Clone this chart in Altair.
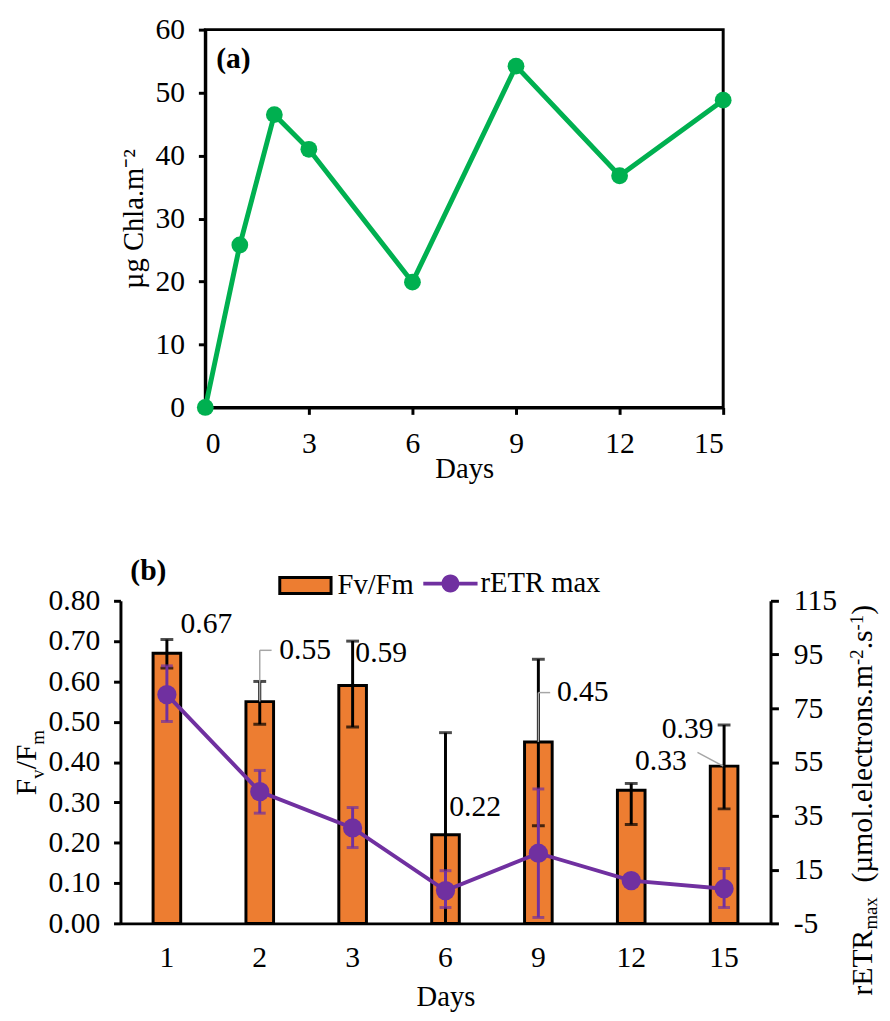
import altair as alt
import pandas as pd

SERIF = "Liberation Serif"
GREEN = "#00B050"
ORANGE = "#ED7D31"
PURPLE = "#7030A0"
GRAY = "#A6A6A6"
LBL = 30
TTL = 29

# ---------------- Panel (a) data ----------------
days_a = [0, 1, 2, 3, 6, 9, 12, 15]
chla = [0.0, 25.8, 46.5, 41.0, 19.9, 54.2, 36.8, 48.8]
x_ticks_a = [0, 3, 6, 9, 12, 15]
y_ticks_a = [0, 10, 20, 30, 40, 50, 60]

# ---------------- Panel (b) data ----------------
days_b = ["1", "2", "3", "6", "9", "12", "15"]
fvfm = [0.67, 0.55, 0.59, 0.22, 0.45, 0.33, 0.39]
fvfm_lo = [0.633, 0.494, 0.487, -0.03, 0.242, 0.245, 0.284]
fvfm_hi = [0.704, 0.600, 0.700, 0.473, 0.655, 0.347, 0.492]
retr = [80.1, 44.0, 30.5, 7.2, 21.1, 10.9, 7.9]
retr_lo = [70.1, 36.0, 23.2, 0.9, -2.8, 10.9, 0.9]
retr_hi = [90.8, 51.9, 38.1, 14.6, 45.0, 10.9, 15.4]
y_ticks_left = [0.0, 0.1, 0.2, 0.3, 0.4, 0.5, 0.6, 0.7, 0.8]
y_ticks_right = [-5, 15, 35, 55, 75, 95, 115]
series_names = ["Fv/Fm", "rETR max"]

# axis titles of panel (b), split into (text, font size, baseline shift, advance)
left_title = [("F", 30, 0, 16.7), ("v", 19, 9, 9.5), ("/F", 30, 0, 25.0), ("m", 19, 9, 14.8)]
right_title = [("rETR", 30, 0, 66.7), ("max", 19, 5, 47.7),
               ("(µmol.electrons.m", 30, 0, 220.6), ("-2", 19, -9, 15.8),
               (".s", 30, 0, 19.2), ("-1", 19, -9, 15.8), (")", 30, 0, 10.0)]


def rotated_title(pieces, x0, y0):
    """Rotated (bottom-to-top) rich-text title made of text marks."""
    layers = []
    y = y0
    for txt, size, shift, adv in pieces:
        layers.append(alt.Chart(pd.DataFrame({"t": [txt]})).mark_text(
            font=SERIF, fontSize=size, angle=270, align="left",
            baseline="alphabetic", color="black").encode(
            text="t:N", x=alt.value(x0 + shift), y=alt.value(y)))
        y -= adv
    return layers


# ================= Panel (a) =================
df_a = pd.DataFrame({"day": days_a, "chla": chla})
xa = alt.X("day:Q", scale=alt.Scale(domain=[0, 15], nice=False),
           axis=alt.Axis(values=x_ticks_a, title="Days", labelPadding=15,
                         titlePadding=-4, tickSize=7))
ya = alt.Y("chla:Q", scale=alt.Scale(domain=[0, 60], nice=False),
           axis=alt.Axis(values=y_ticks_a, title="µg Chla.m⁻²", labelPadding=14,
                         titlePadding=7, tickSize=7))

line_a = alt.Chart(df_a).mark_line(color=GREEN, strokeWidth=5).encode(x=xa, y=ya)
pts_a = alt.Chart(df_a).mark_circle(color=GREEN, size=290, opacity=1).encode(
    x="day:Q", y="chla:Q")
tag_a = alt.Chart(pd.DataFrame({"t": ["(a)"]})).mark_text(
    font=SERIF, fontSize=LBL, fontWeight="bold", align="left", baseline="middle",
    color="black").encode(text="t:N", x=alt.value(11), y=alt.value(30))

panel_a = alt.layer(line_a, pts_a, tag_a).properties(
    width=525, height=383,
    view=alt.ViewBackground(stroke="black", strokeWidth=3))

spacer = alt.Chart(pd.DataFrame({"t": [""]})).mark_text().encode(
    text="t:N").properties(width=1, height=20,
                           view=alt.ViewBackground(stroke="transparent"))

# ================= Panel (b) =================
df_b = pd.DataFrame({
    "day": days_b, "fv": fvfm, "fv_lo": fvfm_lo, "fv_hi": fvfm_hi,
    "retr": retr, "retr_lo": retr_lo, "retr_hi": retr_hi,
})


def xday(**kw):
    return alt.X("day:N", sort=days_b, **kw)


xb = xday(scale=alt.Scale(paddingInner=0, paddingOuter=0),
          axis=alt.Axis(title="Days", labelAngle=0, ticks=False,
                        labelPadding=20, titlePadding=10))
y_left = alt.Y("fv:Q", scale=alt.Scale(domain=[0, 0.8], nice=False),
               axis=alt.Axis(values=y_ticks_left, format=".2f", title=None,
                             labelPadding=14, tickSize=7))
y_right_scale = alt.Scale(domain=[-5, 115], nice=False)

base = alt.Chart(df_b)

bars = base.transform_calculate(series=f"'{series_names[0]}'").mark_bar(
    size=28, stroke="black", strokeWidth=3, opacity=1).encode(
    x=xb, y=y_left,
    color=alt.Color("series:N", scale=alt.Scale(domain=[series_names[0]], range=[ORANGE]),
                    legend=alt.Legend(
                        title=None, orient="none", legendX=160, legendY=-43,
                        padding=0, labelFont=SERIF, labelFontSize=TTL,
                        labelColor="black", labelOffset=5,
                        symbolType="M-1,-0.31H1V0.31H-1Z", symbolSize=2704,
                        symbolStrokeColor="black", symbolStrokeWidth=3,
                        symbolFillColor=ORANGE, symbolOpacity=1)),
)
fv_err = base.mark_rule(color="black", strokeWidth=3, clip=True).encode(
    x=xday(), y="fv_lo:Q", y2="fv_hi:Q")
fv_cap_lo = base.mark_tick(color="black", thickness=3, size=13, orient="horizontal",
                           clip=True).encode(x=xday(), y="fv_lo:Q")
fv_cap_hi = base.mark_tick(color="black", thickness=3, size=13, orient="horizontal").encode(
    x=xday(), y="fv_hi:Q")

# data labels
label_offsets = [(40, -30), (46, -52), (29, -33), (30, -28), (45, -50), (30, -30), (-37, -37)]
labels = []
for d, (dx, dy) in zip(days_b, label_offsets):
    labels.append(base.transform_filter(alt.datum.day == d).mark_text(
        font=SERIF, fontSize=LBL, color="black", dx=dx, dy=dy,
        align="center", baseline="middle").encode(
        x=xday(), y="fv:Q", text=alt.Text("fv:Q", format=".2f")))

# leader lines (x offset, y offset of start and end)
leaders = [("2", 0, 0, 0, -52), ("2", 0, -52, 12, -52),
           ("9", 0, 0, 0, -50), ("9", 0, -50, 12, -50),
           ("15", -1, 0, -27, -14)]
leader_layers = []
for d, x1, y1, x2, y2 in leaders:
    leader_layers.append(base.transform_filter(alt.datum.day == d).mark_rule(
        color=GRAY, strokeWidth=1.5, xOffset=x1, yOffset=y1,
        x2Offset=x2, y2Offset=y2).encode(
        x=xday(bandPosition=0.5), x2=alt.X2("day", bandPosition=0.5),
        y="fv:Q", y2="fv"))

left_layer = alt.layer(bars, fv_err, fv_cap_lo, fv_cap_hi, *leader_layers, *labels)

y_right = alt.Y("retr:Q", scale=y_right_scale,
                axis=alt.Axis(values=y_ticks_right, orient="right", title=None,
                              labelExpr="replace(datum.label, '\u2212', '-')",
                              labelPadding=15, tickSize=8))
retr_line = base.mark_line(color=PURPLE, strokeWidth=4).encode(x=xday(), y=y_right)
retr_err = base.mark_rule(color=PURPLE, strokeWidth=3).encode(
    x=xday(), y=alt.Y("retr_lo:Q", scale=y_right_scale), y2="retr_hi:Q")
retr_cap_lo = base.mark_tick(color=PURPLE, thickness=3, size=12, orient="horizontal").encode(
    x=xday(), y=alt.Y("retr_lo:Q", scale=y_right_scale))
retr_cap_hi = base.mark_tick(color=PURPLE, thickness=3, size=12, orient="horizontal").encode(
    x=xday(), y=alt.Y("retr_hi:Q", scale=y_right_scale))
retr_pts = base.transform_calculate(series=f"'{series_names[1]}'").mark_circle(
    size=380, opacity=1).encode(
    x=xday(), y=alt.Y("retr:Q", scale=y_right_scale),
    color=alt.Color("series:N", scale=alt.Scale(domain=[series_names[1]], range=[PURPLE]),
                    legend=alt.Legend(
                        title=None, orient="none", legendX=307, legendY=-45,
                        padding=0, labelFont=SERIF, labelFontSize=TTL,
                        labelColor="black", labelOffset=3,
                        symbolType="M-1,-0.07H1V0.07H-1Z M-0.33,0A0.33,0.33 0 1,1 0.33,0A0.33,0.33 0 1,1 -0.33,0Z",
                        symbolSize=3025, symbolFillColor=PURPLE,
                        symbolStrokeColor=PURPLE, symbolStrokeWidth=0,
                        symbolOpacity=1)),
)
right_layer = alt.layer(retr_line, retr_err, retr_cap_lo, retr_cap_hi, retr_pts)

tag_b = alt.Chart(pd.DataFrame({"t": ["(b)"]})).mark_text(
    font=SERIF, fontSize=LBL, fontWeight="bold", align="left", baseline="middle",
    color="black").encode(text="t:N", x=alt.value(10), y=alt.value(-30))

titles_b = rotated_title(left_title, -86, 197) + rotated_title(right_title, 762, 400)

panel_b = alt.layer(left_layer, right_layer, tag_b, *titles_b).resolve_scale(
    y="independent", color="independent").properties(
    width=659, height=327,
    view=alt.ViewBackground(stroke="transparent"))

chart = alt.vconcat(
    alt.hconcat(spacer, panel_a, spacing=-5), panel_b, spacing=71
).properties(
    padding={"left": 3, "top": -2, "right": 0, "bottom": 0}
).configure_axis(
    labelFont=SERIF, titleFont=SERIF, labelFontSize=LBL, titleFontSize=TTL,
    titleFontWeight="normal", labelColor="black", titleColor="black",
    domainColor="black", domainWidth=3, tickColor="black", tickWidth=3,
    grid=False,
).configure_view(stroke="transparent")

chart.save("out.html", embed_options={"renderer": "svg", "actions": False})
